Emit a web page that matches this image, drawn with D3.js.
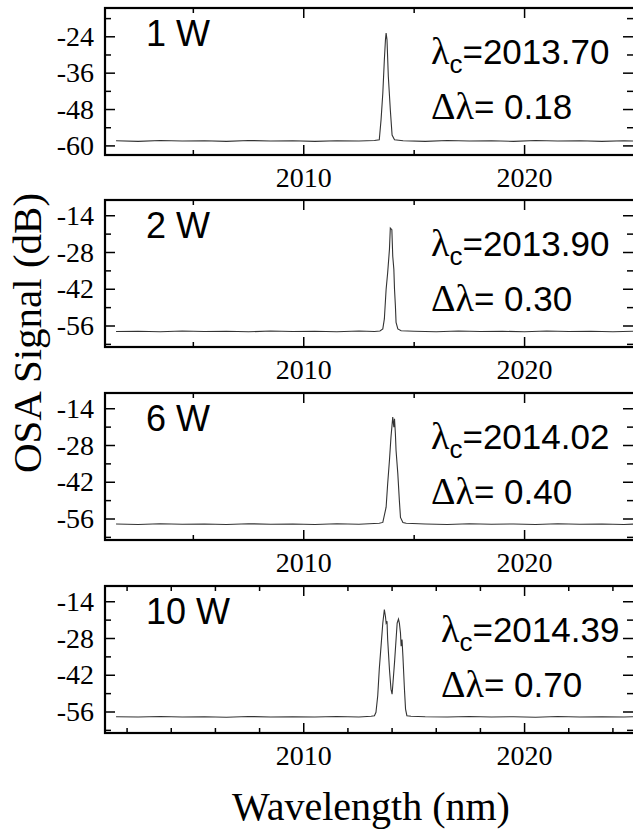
<!DOCTYPE html>
<html>
<head>
<meta charset="utf-8">
<script src="https://cdn.jsdelivr.net/npm/d3@7"></script>
</head>
<body style="margin:0">
<svg id="chart" width="633" height="832"></svg>
<script>
// ---- data ----
const panelLabels = ["1 W", "2 W", "6 W", "10 W"];
const centerWavelengths = ["2013.70", "2013.90", "2014.02", "2014.39"];
const linewidths = ["0.18", "0.30", "0.40", "0.70"];

const yTicks1W = [-24, -36, -48, -60];
const yTicksHigh = [-14, -28, -42, -56];
const xTickLabels = [2010, 2020];

const spectrum1W = [
  [2001.5,-58.3],[2002.5,-58.5],[2003.5,-58.2],[2004.5,-58.4],[2005.5,-58.3],[2006.5,-58.5],
  [2007.5,-58.2],[2008.5,-58.4],[2009.5,-58.3],[2010.5,-58.5],[2011.5,-58.3],[2012.5,-58.4],
  [2013.2,-58.2],[2013.42,-58.0],[2013.50,-51.4],[2013.58,-42.6],[2013.65,-31.6],[2013.70,-25.0],
  [2013.73,-22.8],[2013.77,-25.0],[2013.83,-37.1],[2013.92,-48.1],[2014.00,-56.4],[2014.11,-58.0],
  [2014.5,-58.3],[2015.5,-58.5],[2016.5,-58.2],[2017.5,-58.4],[2018.5,-58.3],[2019.5,-58.5],
  [2020.5,-58.2],[2021.5,-58.4],[2022.5,-58.3],[2023.5,-58.5],[2024.5,-58.3],[2025,-58.4]
];

const spectrum2W = [
  [2001.5,-58.1],[2002.5,-58.0],[2003.5,-58.2],[2004.5,-57.9],[2005.5,-58.1],[2006.5,-58.0],
  [2007.5,-58.2],[2008.5,-57.9],[2009.5,-58.1],[2010.5,-58.0],[2011.5,-58.2],[2012.5,-57.9],
  [2013.2,-58.1],[2013.45,-57.9],[2013.58,-57.1],[2013.65,-53.3],[2013.73,-42.0],[2013.80,-35.7],
  [2013.88,-26.9],[2013.92,-18.7],[2013.99,-19.3],[2014.03,-29.4],[2014.08,-34.4],[2014.11,-42.0],
  [2014.15,-48.3],[2014.18,-54.6],[2014.26,-57.1],[2014.41,-57.8],[2015.0,-58.0],[2016.0,-58.2],
  [2017.0,-57.9],[2018.0,-58.1],[2019.0,-58.0],[2020.0,-58.2],[2021.0,-57.9],[2022.0,-58.1],
  [2023.0,-58.0],[2024.0,-58.2],[2025,-58.0]
];

const spectrum6W = [
  [2001.5,-57.9],[2002.5,-58.1],[2003.5,-57.8],[2004.5,-58.0],[2005.5,-57.9],[2006.5,-58.1],
  [2007.5,-57.8],[2008.5,-58.0],[2009.5,-57.9],[2010.5,-58.1],[2011.5,-57.8],[2012.5,-58.0],
  [2013.42,-57.6],[2013.58,-57.3],[2013.73,-51.5],[2013.80,-42.6],[2013.88,-33.7],[2013.95,-24.8],
  [2014.03,-17.2],[2014.08,-21.0],[2014.11,-17.8],[2014.15,-23.5],[2014.18,-29.9],[2014.26,-38.8],
  [2014.33,-49.0],[2014.38,-55.4],[2014.49,-57.3],[2014.64,-57.6],[2015.5,-57.9],[2016.5,-58.1],
  [2017.5,-57.8],[2018.5,-58.0],[2019.5,-57.9],[2020.5,-58.1],[2021.5,-57.8],[2022.5,-58.0],
  [2023.5,-57.9],[2024.5,-58.1],[2025,-57.9]
];

const spectrum10W = [
  [2001.5,-57.8],[2002.5,-57.9],[2003.5,-57.7],[2004.5,-57.9],[2005.5,-57.8],[2006.5,-58.0],
  [2007.5,-57.7],[2008.5,-57.9],[2009.5,-57.8],[2010.5,-57.9],[2011.5,-57.7],[2012.5,-57.9],
  [2013.05,-57.6],[2013.20,-57.4],[2013.27,-56.1],[2013.35,-49.8],[2013.42,-39.7],[2013.50,-30.9],
  [2013.58,-22.1],[2013.65,-17.0],[2013.70,-19.6],[2013.73,-22.1],[2013.77,-21.4],[2013.80,-28.4],
  [2013.88,-39.7],[2013.95,-47.3],[2014.00,-49.2],[2014.03,-46.0],[2014.11,-37.2],[2014.18,-28.4],
  [2014.23,-22.1],[2014.29,-20.6],[2014.33,-22.1],[2014.38,-25.9],[2014.41,-30.9],[2014.45,-28.4],
  [2014.49,-34.7],[2014.56,-47.3],[2014.61,-54.9],[2014.67,-57.4],[2014.86,-57.6],[2015.5,-57.8],
  [2016.5,-57.9],[2017.5,-57.7],[2018.5,-57.9],[2019.5,-57.8],[2020.5,-58.0],[2021.5,-57.7],
  [2022.5,-57.9],[2023.5,-57.8],[2024.5,-57.9],[2025,-57.8]
];

const panels = [
  {label: panelLabels[0], lc: centerWavelengths[0], dl: linewidths[0], data: spectrum1W,
   yDomain: [-63, -14.5], yMajor: yTicks1W, yStep: 6, xMinorStep: 5},
  {label: panelLabels[1], lc: centerWavelengths[1], dl: linewidths[1], data: spectrum2W,
   yDomain: [-64, -8], yMajor: yTicksHigh, yStep: 7, xMinorStep: 5},
  {label: panelLabels[2], lc: centerWavelengths[2], dl: linewidths[2], data: spectrum6W,
   yDomain: [-64, -8], yMajor: yTicksHigh, yStep: 7, xMinorStep: 5},
  {label: panelLabels[3], lc: centerWavelengths[3], dl: linewidths[3], data: spectrum10W,
   yDomain: [-64, -8], yMajor: yTicksHigh, yStep: 7, xMinorStep: 2}
];

// ---- layout ----
const left = 105, right = 635;
const tops = [8, 200, 393, 586];
const ph = 147;
const SERIF = "Times New Roman";
const SANS = "Liberation Sans";

const svg = d3.select("#chart");

// set family both as attribute and as inline style
function fam(sel, f, size) {
  return sel.attr("font-family", f).attr("font-size", size)
    .style("font-family", f).style("font-size", size + "px");
}

const x = d3.scaleLinear().domain([2001, 2025]).range([left, right]);

panels.forEach((p, i) => {
  const top = tops[i], bottom = top + ph;
  const y = d3.scaleLinear().domain(p.yDomain).range([bottom, top]);
  const g = svg.append("g");

  g.append("clipPath").attr("id", "clip" + i)
    .append("rect").attr("x", left).attr("y", top).attr("width", right - left).attr("height", ph);

  // spectrum
  const line = d3.line().x(d => x(d[0])).y(d => y(d[1]));
  g.append("path").datum(p.data)
    .attr("clip-path", "url(#clip" + i + ")")
    .attr("d", line)
    .attr("fill", "none")
    .attr("stroke", "#333")
    .attr("stroke-width", 1.1);

  // x ticks (bottom and top, pointing inward)
  const xMinor = d3.range(2001, 2026).filter(v => v % p.xMinorStep === 0 && v % 10 !== 0);
  const xMajor = d3.range(2001, 2026).filter(v => v % 10 === 0);
  const xt = xMinor.map(v => [v, 5]).concat(xMajor.map(v => [v, 10]));
  g.selectAll(".xtb").data(xt).join("line")
    .attr("x1", d => x(d[0])).attr("x2", d => x(d[0]))
    .attr("y1", bottom).attr("y2", d => bottom - d[1])
    .attr("stroke", "#000").attr("stroke-width", 1.5);
  g.selectAll(".xtt").data(xt).join("line")
    .attr("x1", d => x(d[0])).attr("x2", d => x(d[0]))
    .attr("y1", top).attr("y2", d => top + d[1])
    .attr("stroke", "#000").attr("stroke-width", 1.5);

  // y ticks (left and right, inward)
  const yAll = [];
  for (let v = p.yMajor[0] + p.yStep; v > p.yDomain[0]; v -= p.yStep) yAll.push(v);
  const yt = yAll.filter(v => v <= p.yDomain[1]).map(v => [v, p.yMajor.includes(v) ? 10 : 6]);
  g.selectAll(".ytl").data(yt).join("line")
    .attr("x1", left).attr("x2", d => left + d[1])
    .attr("y1", d => y(d[0])).attr("y2", d => y(d[0]))
    .attr("stroke", "#000").attr("stroke-width", 1.5);
  g.selectAll(".ytr").data(yt).join("line")
    .attr("x1", right).attr("x2", d => right - d[1] - 2)
    .attr("y1", d => y(d[0])).attr("y2", d => y(d[0]))
    .attr("stroke", "#000").attr("stroke-width", 1.5);

  // frame
  g.append("rect").attr("x", left).attr("y", top).attr("width", right - left).attr("height", ph)
    .attr("fill", "none").attr("stroke", "#000").attr("stroke-width", 2.2);

  // y tick labels
  fam(g.selectAll(".yl").data(p.yMajor).join("text"), SERIF, 28)
    .attr("x", 94).attr("y", d => y(d) + 9)
    .attr("text-anchor", "end")
    .text(d => d);

  // x tick labels
  fam(g.selectAll(".xl").data(xTickLabels).join("text"), SERIF, 28)
    .attr("x", d => x(d)).attr("y", bottom + 32)
    .attr("text-anchor", "middle")
    .text(d => d);

  // power label
  fam(g.append("text"), SANS, 36).attr("x", 146).attr("y", top + 38)
    .text(p.label);

  // annotations
  const ax = i === 3 ? 441 : 431;
  const t1 = fam(g.append("text"), SANS, 35).attr("x", ax).attr("y", top + 56);
  fam(t1.append("tspan"), SERIF, 38).text("λ");
  fam(t1.append("tspan"), SANS, 26).attr("dy", 9).text("c");
  fam(t1.append("tspan"), SANS, 35).attr("dy", -9).text("=" + p.lc);

  const t2 = fam(g.append("text"), SANS, 35).attr("x", ax).attr("y", top + 111);
  fam(t2.append("tspan"), SERIF, 38).text("Δλ");
  fam(t2.append("tspan"), SANS, 35).text("= " + p.dl);
});

// axis titles
fam(svg.append("text"), SERIF, 41)
  .attr("transform", "translate(41,333) rotate(-90)")
  .attr("text-anchor", "middle")
  .text("OSA Signal (dB)");

fam(svg.append("text"), SERIF, 40)
  .attr("x", 371).attr("y", 820)
  .attr("text-anchor", "middle")
  .text("Wavelength (nm)");
</script>
</body>
</html>
